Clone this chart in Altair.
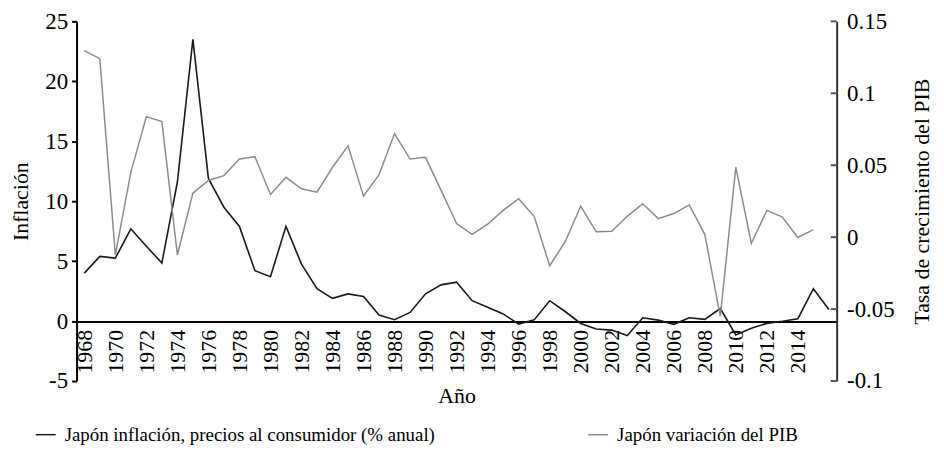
import altair as alt
import pandas as pd

FONT = "Liberation Serif"

years = list(range(1968, 2017))
inflation = [4.0, 5.4, 5.25, 7.7, 6.25, 4.85, 11.6, 23.5, 11.9, 9.5,
             7.9, 4.2, 3.7, 7.9, 4.75, 2.7, 1.9, 2.27, 2.05, 0.5,
             0.12, 0.72, 2.28, 3.02, 3.25, 1.7, 1.15, 0.6, -0.25, 0.1,
             1.7, 0.8, -0.2, -0.66, -0.75, -1.2, 0.28, 0.08, -0.27, 0.28,
             0.14, 1.05, -1.16, -0.6, -0.19, -0.02, 0.2, 2.7, 0.97]
gdp_years = list(range(1968, 2016))
gdp = [0.1296, 0.1241, -0.0124, 0.045, 0.0838, 0.0803, -0.0124, 0.0306, 0.0394, 0.0428,
       0.0543, 0.0559, 0.0297, 0.0416, 0.0336, 0.0313, 0.0486, 0.0635, 0.0285, 0.0435,
       0.072, 0.0543, 0.0555, 0.0325, 0.0095, 0.0019, 0.009, 0.0186, 0.0267, 0.0145,
       -0.0198, -0.0032, 0.0216, 0.0037, 0.0041, 0.0145, 0.0233, 0.0129, 0.0164, 0.0224,
       0.002, -0.055, 0.0486, -0.0044, 0.0186, 0.014, -0.0002, 0.0053]

s_inf = "Japón inflación, precios al consumidor (% anual)"
s_gdp = "Japón variación del PIB"

left_ticks = [-5, 0, 5, 10, 15, 20, 25]
right_ticks = [-0.1, -0.05, 0, 0.05, 0.1, 0.15]
x_labels = list(range(1968, 2015, 2))

df_inf = pd.DataFrame({"year": years, "value": inflation, "serie": s_inf})
df_gdp = pd.DataFrame({"year": gdp_years, "value": gdp, "serie": s_gdp})
df_rt = pd.DataFrame({"value": right_ticks})

W, H = 765, 362
AX = "#000000"

x_enc = alt.X(
    "year:Q",
    scale=alt.Scale(domain=[1967.5, 2016.5], nice=False, zero=False),
    axis=alt.Axis(
        values=x_labels, format="d", labelAngle=-90, labelFontSize=22,
        offset=-60, domain=True, domainWidth=2, domainColor=AX, ticks=False,
        grid=False, labelPadding=8, title="Año", titleFontSize=22,
        titleFontWeight="normal", titlePadding=13, labelColor="black",
        titleColor="black",
    ),
)

color_enc = alt.Color(
    "serie:N",
    scale=alt.Scale(domain=[s_inf, s_gdp], range=["#1a1a1a", "#8c8c8c"]),
    title=None,
    legend=alt.Legend(
        orient="none", legendX=-42, legendY=405, direction="horizontal",
        symbolType="stroke", symbolSize=400, symbolStrokeWidth=1.5,
        labelFontSize=19, labelFont=FONT, labelLimit=700, columnPadding=150,
        labelOffset=8, labelColor="black",
    ),
)

left_axis = alt.Axis(
    orient="left", values=left_ticks, labelExpr="datum.value + ''", labelFontSize=23,
    title="Inflación", titleFontSize=22, titleFontWeight="normal",
    titlePadding=12, domain=True, ticks=True, tickSize=5, tickWidth=2,
    domainWidth=2, domainColor="#000000", tickColor="#000000", labelPadding=4,
    grid=False, labelColor="black", titleColor="black",
)

right_axis = alt.Axis(
    orient="right", values=right_ticks, labelExpr="datum.value + ''",
    labelFontSize=23, title="Tasa de crecimiento del PIB", titleFontSize=22,
    titleFontWeight="normal", titlePadding=40, titleAngle=270, domain=True, ticks=False,
    domainWidth=2, domainColor="#333333", labelPadding=10, grid=False,
    labelColor="black", titleColor="black",
)

infl = alt.Chart(df_inf).mark_line(strokeWidth=1.6).encode(
    x=x_enc,
    y=alt.Y("value:Q", scale=alt.Scale(domain=[-5, 25], nice=False), axis=left_axis),
    color=color_enc,
)

gdp_line = alt.Chart(df_gdp).mark_line(strokeWidth=1.5).encode(
    x=x_enc,
    y=alt.Y("value:Q", scale=alt.Scale(domain=[-0.1, 0.15], nice=False), axis=right_axis),
    color=color_enc,
)

rticks = alt.Chart(df_rt).mark_rule(color="#555555", strokeWidth=2).encode(
    y=alt.Y("value:Q", scale=alt.Scale(domain=[-0.1, 0.15], nice=False), axis=right_axis),
    x=alt.value(W - 6),
    x2=alt.value(W),
)

right = alt.layer(gdp_line, rticks)

chart = (
    alt.layer(infl, right)
    .resolve_scale(y="independent")
    .properties(
        width=W, height=H,
        autosize=alt.AutoSizeParams(type="none"),
        padding={"left": 69, "top": 12, "right": 100, "bottom": 74},
    )
    .configure_view(stroke=None)
    .configure_axis(labelFont=FONT, titleFont=FONT)
    .configure_legend(labelFont=FONT)
)

chart.save("out.html", embed_options={"renderer": "svg", "actions": False})
